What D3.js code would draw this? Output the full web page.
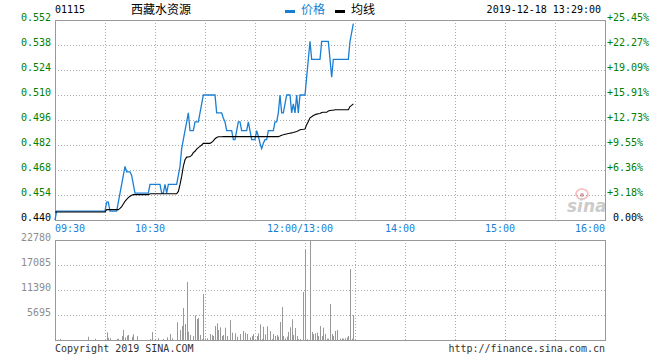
<!DOCTYPE html>
<html lang="zh">
<head>
  <meta charset="UTF-8">
  <title>01115 西藏水资源</title>
  <script src="https://d3js.org/d3.v7.min.js"></script>
  <style>
    body { margin: 0; background: #fff; }
    svg text { font-family: "DejaVu Sans Mono", "Liberation Mono", monospace; font-size: 10px; }
    .cjk { font-family: "Noto Sans CJK SC", sans-serif !important; font-size: 12px !important; }
  </style>
</head>
<body>
  <svg id="chart" width="660" height="360"></svg>
  <script>
    // header
    const stockCode = "01115";
    const stockName = "西藏水资源";
    const stamp = "2019-12-18 13:29:00";
    const prevClose = 0.440;

    const priceTicks = [0.440, 0.454, 0.468, 0.482, 0.496, 0.510, 0.524, 0.538, 0.552];
    const volTicks = [5695, 11390, 17085, 22780];
    const timeLabels = ["09:30", "10:30", "12:00/13:00", "14:00", "15:00", "16:00"];
    const timeLabelMinutes = [0, 60, 150, 210, 270, 330];

    // one value per trading minute: 09:30-11:59 then 13:00-13:29
    const price = [
      0.440, 0.445, 0.445, 0.445, 0.445, 0.445, 0.445, 0.445, 0.445, 0.445,
      0.445, 0.445, 0.445, 0.445, 0.445, 0.445, 0.445, 0.445, 0.445, 0.445,
      0.445, 0.445, 0.445, 0.445, 0.445, 0.445, 0.445, 0.445, 0.445, 0.445,
      0.445, 0.450, 0.450, 0.445, 0.445, 0.445, 0.445, 0.445, 0.450, 0.455,
      0.460, 0.465, 0.470, 0.467, 0.467, 0.467, 0.465, 0.460, 0.455, 0.455,
      0.455, 0.455, 0.455, 0.455, 0.455, 0.455, 0.455, 0.460, 0.460, 0.460,
      0.460, 0.460, 0.460, 0.460, 0.455, 0.455, 0.460, 0.455, 0.460, 0.460,
      0.460, 0.460, 0.460, 0.460, 0.465, 0.470, 0.480, 0.485, 0.490, 0.495,
      0.500, 0.490, 0.490, 0.490, 0.495, 0.495, 0.495, 0.500, 0.505, 0.510,
      0.510, 0.510, 0.510, 0.510, 0.510, 0.510, 0.510, 0.500, 0.500, 0.500,
      0.500, 0.497, 0.495, 0.490, 0.490, 0.490, 0.490, 0.485, 0.485, 0.490,
      0.495, 0.495, 0.490, 0.490, 0.490, 0.490, 0.495, 0.490, 0.485, 0.485,
      0.485, 0.490, 0.487, 0.483, 0.480, 0.483, 0.485, 0.485, 0.490, 0.490,
      0.490, 0.490, 0.495, 0.495, 0.500, 0.510, 0.500, 0.500, 0.505, 0.510,
      0.510, 0.510, 0.500, 0.505, 0.500, 0.510, 0.500, 0.510, 0.510, 0.510,
      0.510, 0.520, 0.530, 0.540, 0.530, 0.530, 0.530, 0.530, 0.530, 0.530,
      0.540, 0.540, 0.540, 0.540, 0.540, 0.530, 0.520, 0.530, 0.530, 0.530,
      0.530, 0.530, 0.530, 0.530, 0.530, 0.530, 0.530, 0.540, 0.545, 0.550
    ];

    const avgPrice = [
      0.4445, 0.4445, 0.4445, 0.4445, 0.4445, 0.4445, 0.4445, 0.4445, 0.4445, 0.4445,
      0.4445, 0.4445, 0.4445, 0.4445, 0.4445, 0.4445, 0.4445, 0.4445, 0.4445, 0.4445,
      0.4445, 0.4445, 0.4445, 0.4445, 0.4445, 0.4445, 0.4445, 0.4445, 0.4445, 0.4445,
      0.4445, 0.4458, 0.4458, 0.4458, 0.4458, 0.4458, 0.4458, 0.4458, 0.4458, 0.4465,
      0.4475, 0.4490, 0.4505, 0.4515, 0.4525, 0.4533, 0.4538, 0.4542, 0.4542, 0.4542,
      0.4542, 0.4542, 0.4542, 0.4542, 0.4542, 0.4542, 0.4542, 0.4547, 0.4547, 0.4547,
      0.4547, 0.4547, 0.4547, 0.4547, 0.4547, 0.4547, 0.4547, 0.4547, 0.4547, 0.4547,
      0.4547, 0.4547, 0.4547, 0.4547, 0.4560, 0.4598, 0.4644, 0.4700, 0.4737, 0.4752,
      0.4753, 0.4755, 0.4762, 0.4777, 0.4785, 0.4797, 0.4805, 0.4812, 0.4820, 0.4829,
      0.4829, 0.4829, 0.4829, 0.4829, 0.4835, 0.4843, 0.4855, 0.4862, 0.4866, 0.4866,
      0.4866, 0.4867, 0.4867, 0.4867, 0.4867, 0.4867, 0.4867, 0.4867, 0.4867, 0.4867,
      0.4867, 0.4867, 0.4867, 0.4867, 0.4867, 0.4867, 0.4867, 0.4867, 0.4867, 0.4867,
      0.4867, 0.4867, 0.4867, 0.4867, 0.4867, 0.4867, 0.4867, 0.4867, 0.4867, 0.4867,
      0.4867, 0.4867, 0.4867, 0.4867, 0.4867, 0.4870, 0.4875, 0.4877, 0.4880, 0.4882,
      0.4884, 0.4886, 0.4888, 0.4890, 0.4893, 0.4896, 0.4900, 0.4905, 0.4907, 0.4908,
      0.4910, 0.4934, 0.4952, 0.4972, 0.4978, 0.4985, 0.4990, 0.4993, 0.4995, 0.4996,
      0.5002, 0.5003, 0.5003, 0.5003, 0.5010, 0.5013, 0.5015, 0.5015, 0.5017, 0.5017,
      0.5017, 0.5017, 0.5017, 0.5017, 0.5017, 0.5017, 0.5017, 0.5035, 0.5042, 0.5050
    ];

    const volume = [
         0,    0,    0,  250,    0,    0,    0,    0,    0,    0,
         0,    0,    0,    0,    0,    0,    0,    0,    0,    0,
       750,    0,    0,    0,  250,    0,    0,    0,    0,    0,
         0, 1750,  500,  400,    0,    0,    0,  250,  300,    0,
       900, 2300,  600, 1000, 1150,    0,  750, 1300,    0,  850,
         0,    0,    0,    0,    0,    0,    0,  250, 1800,    0,
       250,    0,  400,    0,    0,  250,    0,  600,    0, 1370,
       380,    0,    0, 4030,    0, 2280, 3190, 7290, 3650,13210,
      1900, 1140,    0,  910, 5620, 4780, 5010, 1140,  200,10480,
       380,  380,    0, 1370, 1140,  910, 3190, 3800, 2280, 2890,
       910, 1140, 2810,  910,    0, 4560, 1670,    0, 1520,  760,
         0, 1370,    0, 2050, 1670, 1370,    0,  600,  910, 1370,
         0,  910, 1520, 3570,  250, 3040, 1290, 3110,    0, 2050,
       200, 1370,  910, 1140,  760, 4100, 7520,  910,  380,  760,
      1820, 2900, 4710, 1140, 2730,  910,  200,  200,    0,10930,
     20500,  200,    0,22780, 1820, 1370, 1520, 1670,  910, 3190,
       910, 2810, 1370,  300,  300, 8200, 1370,  910, 2050, 2280,
         0,  300,  380,  300,  380,  600,  910,16170,  300, 5700
    ];

    const left = 55, right = 605;
    const svg = d3.select("#chart");

    const x = d3.scaleLinear().domain([0, 330]).range([left, right]);
    const y = d3.scaleLinear().domain([0.440, 0.552]).range([220, 20]);
    const yv = d3.scaleLinear().domain([0, 22780]).range([340, 240]);

    const blue = "#1a7fd4";
    const green = "#008000";
    const gridColor = "#aaa";
    const frameColor = "#999";

    // grid lines + frames for both panels
    const vGrid = d3.range(1, 11).map(i => i * 30);
    [[20, 220, y, priceTicks], [240, 340, yv, volTicks]].forEach(([top, bottom, sc, ticks]) => {
      svg.append("g").selectAll("line").data(vGrid).join("line")
        .attr("x1", d => x(d) + 0.5).attr("x2", d => x(d) + 0.5)
        .attr("y1", top).attr("y2", bottom)
        .attr("stroke", gridColor).attr("stroke-dasharray", "1,2");
      svg.append("g").selectAll("line").data(ticks).join("line")
        .attr("x1", left).attr("x2", right)
        .attr("y1", d => Math.round(sc(d)) + 0.5).attr("y2", d => Math.round(sc(d)) + 0.5)
        .attr("stroke", gridColor).attr("stroke-dasharray", "1,2");
      svg.append("rect")
        .attr("x", left + 0.5).attr("y", top + 0.5)
        .attr("width", right - left).attr("height", bottom - top)
        .attr("fill", "none").attr("stroke", frameColor);
    });

    // price axis labels
    svg.append("g").selectAll("text").data(priceTicks).join("text")
      .attr("x", 51).attr("y", d => y(d) + 1)
      .attr("text-anchor", "end")
      .attr("fill", d => d > prevClose ? green : "#000")
      .text(d => d.toFixed(3));

    svg.append("g").selectAll("text").data(priceTicks).join("text")
      .attr("x", d => d > prevClose ? 607 : 613).attr("y", d => y(d) + 1)
      .attr("fill", d => d > prevClose ? green : "#000")
      .text(d => (d > prevClose ? "+" : "") + ((d / prevClose - 1) * 100).toFixed(2) + "%");

    svg.append("g").selectAll("text").data(volTicks).join("text")
      .attr("x", 51).attr("y", d => yv(d) + 1)
      .attr("text-anchor", "end")
      .attr("fill", "#8c8c8c")
      .text(d => d);

    // time labels
    const last = timeLabels.length - 1;
    svg.append("g").selectAll("text").data(timeLabels).join("text")
      .attr("x", (d, i) => (i === 0 || i === last) ? x(timeLabelMinutes[i]) : x(timeLabelMinutes[i]) - 5)
      .attr("y", 232)
      .attr("text-anchor", (d, i) => i === 0 ? "start" : i === last ? "end" : "middle")
      .attr("fill", blue)
      .text(d => d);

    // sina watermark
    const wm = svg.append("g").attr("opacity", 0.5);
    wm.append("ellipse").attr("cx", 582).attr("cy", 194).attr("rx", 6).attr("ry", 5)
      .attr("fill", "none").attr("stroke", "#e77").attr("stroke-width", 1.6);
    wm.append("circle").attr("cx", 582).attr("cy", 195).attr("r", 2).attr("fill", "#b55");
    wm.append("text").attr("x", 567).attr("y", 212)
      .style("font-family", "DejaVu Sans").style("font-size", "17px")
      .style("font-style", "italic").style("font-weight", "bold")
      .attr("fill", "#999").text("sina");

    // volume bars
    svg.append("g").selectAll("rect")
      .data(volume.map((v, i) => ({ i, v })).filter(d => d.v > 0))
      .join("rect")
      .attr("x", d => Math.round(x(d.i)))
      .attr("y", d => yv(d.v))
      .attr("width", 1)
      .attr("height", d => 340 - yv(d.v))
      .attr("fill", "#999");

    // price and average lines
    const line = d3.line().x((d, i) => x(i)).y(d => y(d));
    svg.append("path").datum(price)
      .attr("d", line).attr("fill", "none")
      .attr("stroke", blue).attr("stroke-width", 1.3);
    svg.append("path").datum(avgPrice)
      .attr("d", line).attr("fill", "none")
      .attr("stroke", "#000").attr("stroke-width", 1.1);

    // header
    svg.append("text").attr("x", 55).attr("y", 12.5).text(stockCode);
    svg.append("text").attr("class", "cjk").attr("x", 131).attr("y", 13.5).text(stockName);
    svg.append("rect").attr("x", 285).attr("y", 10).attr("width", 10).attr("height", 3).attr("fill", blue);
    svg.append("text").attr("class", "cjk").attr("x", 301).attr("y", 13.5).attr("fill", blue).text("价格");
    svg.append("rect").attr("x", 335).attr("y", 10).attr("width", 10).attr("height", 3).attr("fill", "#000");
    svg.append("text").attr("class", "cjk").attr("x", 351).attr("y", 13.5).text("均线");
    svg.append("text").attr("x", 601).attr("y", 12.5).attr("text-anchor", "end").text(stamp);

    // footer
    svg.append("text").attr("x", 55).attr("y", 352).attr("fill", "#333").text("Copyright 2019 SINA.COM");
    svg.append("text").attr("x", 605).attr("y", 352).attr("text-anchor", "end").attr("fill", "#333").text("http://finance.sina.com.cn");
  </script>
</body>
</html>
